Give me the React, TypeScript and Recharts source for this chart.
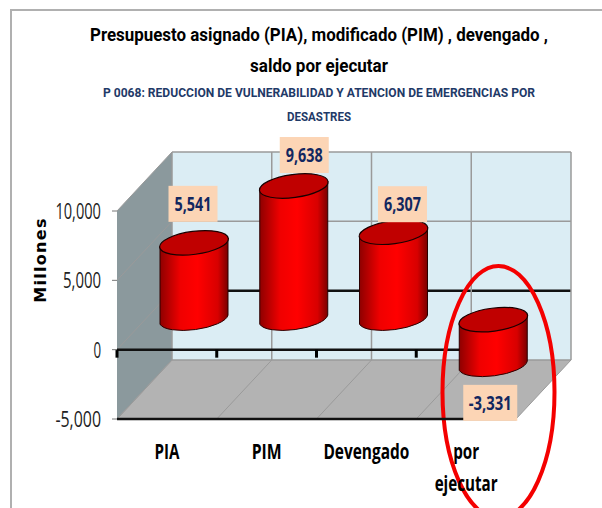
import React from 'react';
import { BarChart, Bar, XAxis, YAxis, LabelList, usePlotArea } from 'recharts';

const categories = ['PIA', 'PIM', 'Devengado', 'por ejecutar'];
const values = [5541, 9638, 6307, -3331];
const yTicks = [-5000, 0, 5000, 10000];
const titleLines = ['Presupuesto asignado (PIA), modificado (PIM) , devengado ,', 'saldo por ejecutar'];
const subtitleLines = ['P 0068: REDUCCION DE VULNERABILIDAD Y ATENCION DE EMERGENCIAS POR', 'DESASTRES'];

const rows = categories.map((name, i) => ({ name, value: values[i] }));

const DX = 55;
const DY = -59;
const BAR_DX = 27;
const BAR_DY = -30;
const labelNudge = [
  { x: -1, y: -39 },
  { x: 10.5, y: -31 },
  { x: 9, y: -28 },
  { x: -3, y: 37 },
];
const wordWidth: Record<string, number> = { PIA: 25, PIM: 30, Devengado: 86, por: 26, ejecutar: 63 };
const FONT = "'Open Sans', sans-serif";
const HEAD_FONT = "Roboto, sans-serif";

const domainMin = -5000;
const domainMax = 10000;

function usePos() {
  const p = usePlotArea() as any;
  const yOf = (v: number) => p.y + ((domainMax - v) / (domainMax - domainMin)) * p.height;
  return { p, yOf };
}

function Backdrop() {
  const { p, yOf } = usePos();
  if (!p) return null;
  const L = p.x, R = p.x + p.width, T = p.y, B = p.y + p.height;
  const grid = '#9a9a9a';
  const n = categories.length;
  const xs = Array.from({ length: n + 1 }, (_, i) => L + (i * p.width) / n);
  const head = { textAnchor: 'middle' as const, fontFamily: HEAD_FONT, fontWeight: 700, lengthAdjust: 'spacingAndGlyphs' };
  return (
    <g>
      <defs>
        <linearGradient id="cyl" x1="0" y1="0" x2="1" y2="0">
          <stop offset="0" stopColor="#8e0000" />
          <stop offset="0.3" stopColor="#f00000" />
          <stop offset="0.55" stopColor="#ff0000" />
          <stop offset="0.85" stopColor="#d80000" />
          <stop offset="1" stopColor="#7a0000" />
        </linearGradient>
      </defs>
      <rect x={11} y={10} width={800} height={800} fill="#fff" stroke="#b0b0b0" strokeWidth={2} />
      <text x={319} y={41} {...head} fontSize={18.7} fill="#000" textLength={458}>{titleLines[0]}</text>
      <text x={319} y={72} {...head} fontSize={18.7} fill="#000" textLength={138}>{titleLines[1]}</text>
      <text x={319} y={97} {...head} fontSize={13} fill="#1f3a68" textLength={432}>{subtitleLines[0]}</text>
      <text x={319} y={121} {...head} fontSize={13} fill="#1f3a68" textLength={64}>{subtitleLines[1]}</text>

      <polygon points={`${L + DX},${T + DY} ${R + DX},${T + DY} ${R + DX},${B + DY} ${L + DX},${B + DY}`} fill="#dbedf4" />
      <polygon points={`${L},${T} ${L + DX},${T + DY} ${L + DX},${B + DY} ${L},${B}`} fill="#8b999d" />
      <polygon points={`${L},${B} ${L + DX},${B + DY} ${R + DX},${B + DY} ${R},${B}`} fill="#b3b3b3" />
      {yTicks.map((t) => (
        <g key={t}>
          <line x1={L} y1={yOf(t)} x2={L + DX} y2={yOf(t) + DY} stroke={grid} strokeWidth={1} />
          <line x1={L + DX} y1={yOf(t) + DY} x2={R + DX} y2={yOf(t) + DY} stroke={t === 0 ? '#111' : grid} strokeWidth={t === 0 ? 2.5 : 1.5} />
        </g>
      ))}
      {xs.map((x, i) => (
        <g key={i}>
          <line x1={x} y1={B} x2={x + DX} y2={B + DY} stroke={grid} strokeWidth={1} />
          <line x1={x + DX} y1={B + DY} x2={x + DX} y2={T + DY} stroke={grid} strokeWidth={1.5} />
        </g>
      ))}
    </g>
  );
}

function ZeroAxis() {
  const { p, yOf } = usePos();
  if (!p) return null;
  const n = categories.length;
  const xs = Array.from({ length: n + 1 }, (_, i) => p.x + (i * p.width) / n);
  const y0 = yOf(0);
  return (
    <g>
      <line x1={p.x} y1={y0} x2={p.x + p.width} y2={y0} stroke="#111" strokeWidth={2.5} />
      {xs.map((x, i) => (
        <line key={i} x1={x} y1={y0} x2={x} y2={y0 + 8} stroke="#000" strokeWidth={3} />
      ))}
      <ellipse cx={498.5} cy={392} rx={56} ry={126} fill="none" stroke="#f40000" strokeWidth={4} />
    </g>
  );
}

function Cylinder(props: any) {
  const { x, y, width, height } = props;
  const top = Math.min(y, y + height) + BAR_DY;
  const bot = Math.max(y, y + height) + BAR_DY;
  const cx = x + width / 2 + BAR_DX;
  const rx = width / 2;
  const l = cx - rx;
  const r = cx + rx;
  const rise = 4.5;
  const ery = 11.5;
  const rot = -7.5;
  return (
    <g>
      <path
        d={`M${l},${top + rise} L${l},${bot + rise} A${rx + 0.6},${ery} ${rot} 0 0 ${r},${bot - rise} L${r},${top - rise} A${rx + 0.6},${ery} ${rot} 0 0 ${l},${top + rise} Z`}
        fill="url(#cyl)"
        stroke="#2a0000"
        strokeWidth={1}
      />
      <ellipse cx={cx} cy={top} rx={rx + 0.6} ry={ery} transform={`rotate(${rot} ${cx} ${top})`} fill="#c00000" stroke="#1a0000" strokeWidth={1.2} />
    </g>
  );
}

function ValueLabel(props: any) {
  const { x, y, width, value, index } = props;
  const nudge = labelNudge[index];
  const cx = x + width / 2 + BAR_DX + nudge.x;
  const yVal = value >= 0 ? Math.min(y, y + (props.height ?? 0)) : Math.max(y, y + (props.height ?? 0));
  const cy = yVal + BAR_DY + nudge.y;
  const neg = value < 0;
  const w = neg ? 54 : 49;
  const text = Number(value).toLocaleString('en-US');
  return (
    <g>
      <rect x={cx - w / 2} y={cy - 18} width={w} height={36} fill="#fcd5b5" />
      <text x={cx} y={cy + 7} textAnchor="middle" fontFamily={FONT} fontWeight={700} fontSize={20} fill="#12275f" textLength={neg ? 43 : 37} lengthAdjust="spacingAndGlyphs">{text}</text>
    </g>
  );
}

function CategoryTick(props: any) {
  const { x, y, payload } = props;
  const words = String(payload.value).split(' ');
  return (
    <g>
      {words.map((w, i) => (
        <text key={i} x={x} y={y + 2 + i * 32} textAnchor="middle" fontFamily={FONT} fontWeight={700} fontSize={21} fill="#000" textLength={wordWidth[w]} lengthAdjust="spacingAndGlyphs">{w}</text>
      ))}
    </g>
  );
}

function ValueTick(props: any) {
  const { x, y, payload } = props;
  const s = Number(payload.value).toLocaleString('en-US');
  return (
    <text x={x} y={y + 8} textAnchor="end" fontFamily={FONT} fontSize={21} fill="#222" textLength={s.length * 7.6} lengthAdjust="spacingAndGlyphs">{s}</text>
  );
}

export default function App() {
  return (
    <div style={{ position: 'absolute', left: 0, top: 0, width: 602, height: 508, overflow: 'hidden' }}>
      <BarChart width={602} height={508} data={rows} margin={{ top: 211, right: 86, bottom: 0, left: 47 }} barCategoryGap={0}>
        <Backdrop />
        <YAxis
          domain={[domainMin, domainMax]}
          ticks={yTicks}
          width={70}
          interval={0}
          tick={<ValueTick />}
          tickLine={{ stroke: '#777' }}
          tickSize={5}
          tickMargin={11}
          axisLine={false}
          label={{ value: 'Millones', angle: -90, position: 'insideLeft', dx: -12, dy: -55, style: { fontFamily: 'DejaVu Sans', fontWeight: 700, fontSize: 16, letterSpacing: 1.3, fill: '#000', textAnchor: 'middle' } }}
        />
        <XAxis
          dataKey="name"
          height={89}
          interval={0}
          tick={<CategoryTick />}
          tickLine={false}
          tickMargin={32}
          axisLine={{ stroke: '#111', strokeWidth: 2.5 }}
        />
        <Bar dataKey="value" barSize={68} shape={<Cylinder />} isAnimationActive={false}>
          <LabelList dataKey="value" content={<ValueLabel />} />
        </Bar>
        <ZeroAxis />
      </BarChart>
    </div>
  );
}
